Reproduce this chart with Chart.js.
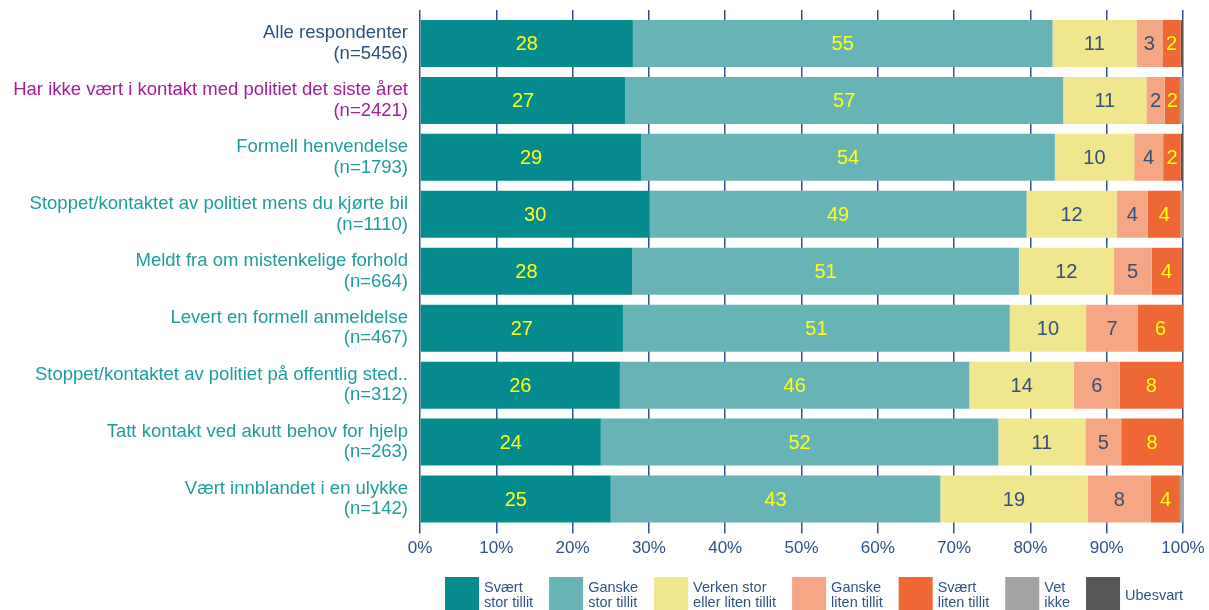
<!DOCTYPE html>
<html>
<head>
<meta charset="utf-8">
<script src="https://cdn.jsdelivr.net/npm/chart.js@4.4.1/dist/chart.umd.min.js"></script>
<style>
  html, body { margin: 0; padding: 0; background: #fff; }
  #wrap { width: 1209px; height: 610px; }
</style>
</head>
<body>
<div id="wrap"><canvas id="tillit-chart" width="1209" height="610"></canvas></div>
<script>
const groups = [
    ['Alle respondenter', '(n=5456)'],
    ['Har ikke vært i kontakt med politiet det siste året', '(n=2421)'],
    ['Formell henvendelse', '(n=1793)'],
    ['Stoppet/kontaktet av politiet mens du kjørte bil', '(n=1110)'],
    ['Meldt fra om mistenkelige forhold', '(n=664)'],
    ['Levert en formell anmeldelse', '(n=467)'],
    ['Stoppet/kontaktet av politiet på offentlig sted..', '(n=312)'],
    ['Tatt kontakt ved akutt behov for hjelp', '(n=263)'],
    ['Vært innblandet i en ulykke', '(n=142)']
];

const answers = [
    ['Svært', 'stor tillit'],
    ['Ganske', 'stor tillit'],
    ['Verken stor', 'eller liten tillit'],
    ['Ganske', 'liten tillit'],
    ['Svært', 'liten tillit'],
    ['Vet', 'ikke'],
    ['Ubesvart']
];

// percent per group, one array per answer
const sværtStor   = [27.9, 26.9, 29.0, 30.1, 27.8, 26.6, 26.2, 23.7, 25.0];
const ganskeStor  = [55.0, 57.4, 54.2, 49.4, 50.7, 50.7, 45.8, 52.1, 43.2];
const verken      = [11.0, 10.9, 10.4, 11.8, 12.4, 10.0, 13.7, 11.4, 19.3];
const ganskeLiten = [3.4, 2.4, 3.8, 4.1, 5.0, 6.8, 6.0, 4.7, 8.3];
const sværtLiten  = [2.4, 2.0, 2.3, 4.3, 3.9, 5.9, 8.3, 8.1, 3.8];
const vetIkke     = [0, 0.4, 0, 0.3, 0, 0, 0, 0, 0.4];
const ubesvart    = [0.3, 0, 0.3, 0, 0.2, 0, 0, 0, 0];

const xTicks = [0, 10, 20, 30, 40, 50, 60, 70, 80, 90, 100];

const colors = ['#058B8E', '#67B3B6', '#F0E68D', '#F5A684', '#EE6734', '#A3A3A3', '#575757'];
const labelColors = ['#FFFF1A', '#FFFF1A', '#34507C', '#34507C', '#FFFF1A', '#34507C', '#34507C'];
const groupColors = ['#2D5080', '#A31C98', '#1F9C9B'];
const blue = '#2F5388';
const font = '"Liberation Sans", Arial, sans-serif';

const seriesValues = [sværtStor, ganskeStor, verken, ganskeLiten, sværtLiten, vetIkke, ubesvart];

const datasets = seriesValues.map((values, i) => ({
    label: answers[i].join(' '),
    data: values,
    backgroundColor: colors[i],
    borderWidth: 0,
    barPercentage: 0.825,
    categoryPercentage: 1
}));

// value labels inside the bars
const barLabels = {
    id: 'barLabels',
    afterDatasetsDraw(chart) {
        const c = chart.ctx;
        c.save();
        c.font = '20px ' + font;
        c.textAlign = 'center';
        c.textBaseline = 'middle';
        chart.data.datasets.forEach((ds, di) => {
            if (di > 4) return;
            const meta = chart.getDatasetMeta(di);
            meta.data.forEach((bar, i) => {
                const v = ds.data[i];
                if (v < 1.5) return;
                c.fillStyle = labelColors[di];
                c.fillText(String(Math.round(v)), (bar.x + bar.base) / 2, bar.y + 1);
            });
        });
        c.restore();
    }
};

// legend drawn below the x axis
const bottomLegend = {
    id: 'bottomLegend',
    afterDraw(chart) {
        const c = chart.ctx;
        c.save();
        c.font = '14.5px ' + font;
        c.textBaseline = 'middle';
        let x = chart.chartArea.left + 25;
        const top = 577;
        answers.forEach((lines, i) => {
            c.fillStyle = colors[i];
            c.fillRect(x, top, 34, 34);
            c.fillStyle = blue;
            const tx = x + 39;
            let w = 0;
            if (lines.length === 1) {
                c.fillText(lines[0], tx, top + 19);
                w = c.measureText(lines[0]).width;
            } else {
                lines.forEach((t, k) => {
                    c.fillText(t, tx, top + 11 + k * 15);
                    w = Math.max(w, c.measureText(t).width);
                });
            }
            x = tx + w + 16;
        });
        c.restore();
    }
};

const ctx = document.getElementById('tillit-chart').getContext('2d');

new Chart(ctx, {
    type: 'bar',
    data: {
        labels: groups,
        datasets: datasets
    },
    options: {
        indexAxis: 'y',
        responsive: false,
        animation: false,
        layout: { padding: { left: 0, right: 26, top: 0, bottom: 0 } },
        plugins: {
            legend: { display: false },
            tooltip: { enabled: false }
        },
        scales: {
            x: {
                stacked: true,
                min: 0,
                max: 100,
                afterBuildTicks(scale) {
                    scale.ticks = xTicks.map(v => ({ value: v }));
                },
                afterFit(scale) {
                    scale.height = 82.5;
                    scale.paddingLeft = 0;
                    scale.paddingRight = 0;
                },
                grid: { color: blue, lineWidth: 1.5, tickLength: 6 },
                border: { display: false },
                ticks: {
                    padding: 5,
                    color: blue,
                    font: { size: 17, family: font },
                    callback: v => v + '%'
                }
            },
            xTop: {
                type: 'linear',
                position: 'top',
                min: 0,
                max: 100,
                afterBuildTicks(scale) {
                    scale.ticks = xTicks.map(v => ({ value: v }));
                },
                afterFit(scale) {
                    scale.height = 15;
                    scale.paddingLeft = 0;
                    scale.paddingRight = 0;
                },
                grid: { drawOnChartArea: false, color: blue, lineWidth: 1.5, tickLength: 5 },
                border: { display: false },
                ticks: { display: false }
            },
            y: {
                stacked: true,
                afterFit(scale) {
                    scale.width = 420;
                    scale.paddingTop = 0;
                    scale.paddingBottom = 0;
                },
                grid: { display: false, drawTicks: false },
                border: { display: false },
                ticks: {
                    padding: 12,
                    font: { size: 18.5, family: font, lineHeight: 1.1 },
                    color: c => groupColors[Math.min(c.index, 2)]
                }
            }
        }
    },
    plugins: [barLabels, bottomLegend]
});
</script>
</body>
</html>
